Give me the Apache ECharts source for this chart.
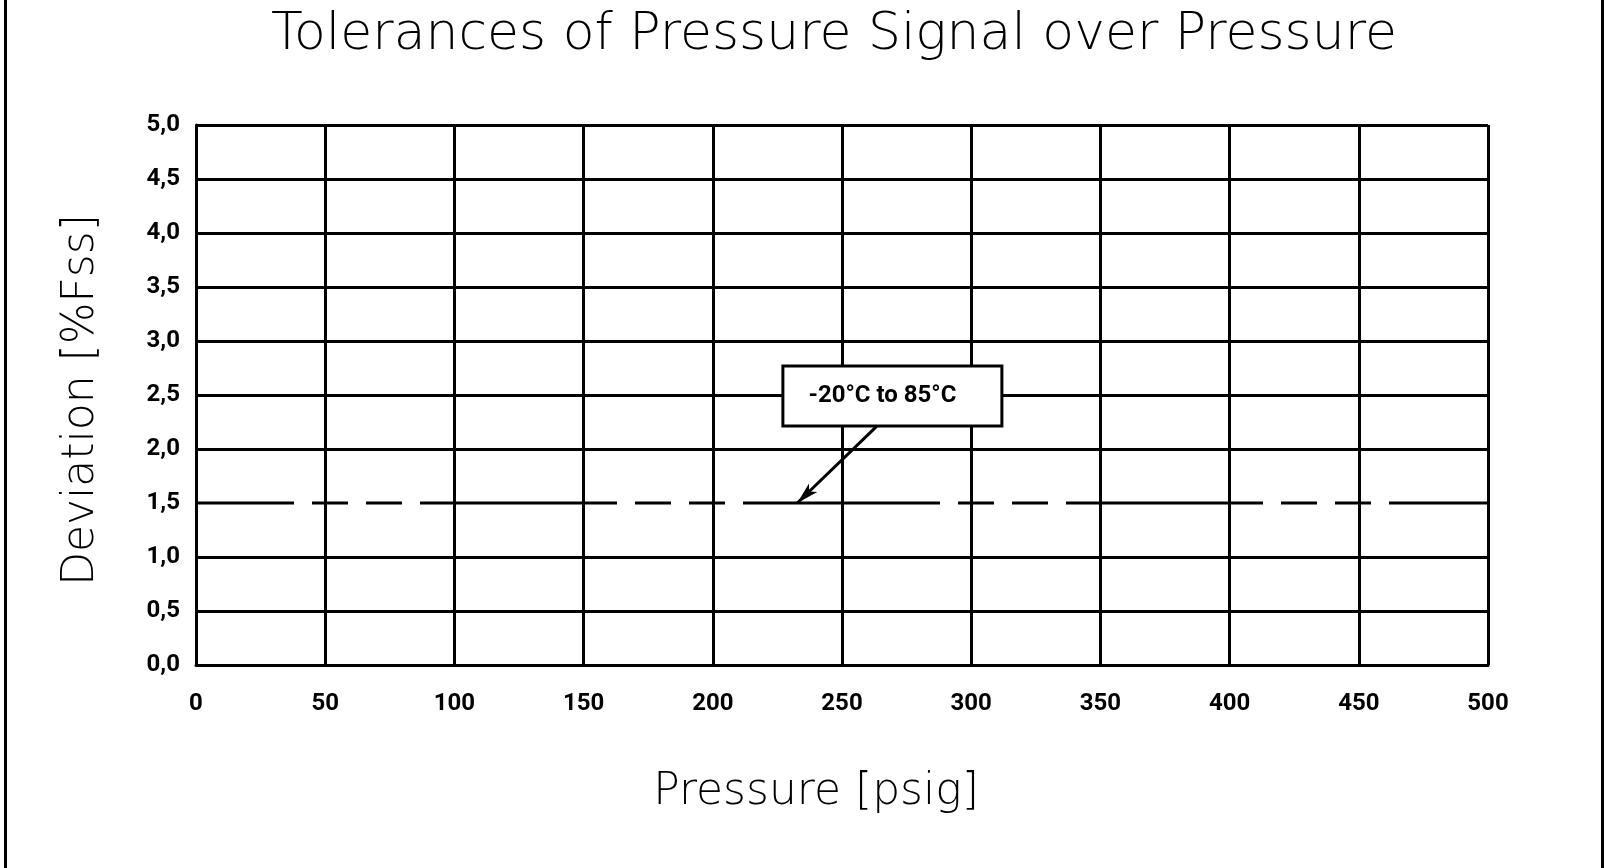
<!DOCTYPE html>
<html>
<head>
<meta charset="utf-8">
<title>Tolerances of Pressure Signal over Pressure</title>
<script src="https://cdn.jsdelivr.net/npm/echarts@6/dist/echarts.min.js"></script>
<style>
html, body { margin: 0; padding: 0; background: #fff; }
#chart { width: 1607px; height: 868px; }
</style>
</head>
<body>
<div id="chart"></div>
<script>
// data
var xTicks = [0, 50, 100, 150, 200, 250, 300, 350, 400, 450, 500];
var yTicks = [0, 0.5, 1.0, 1.5, 2.0, 2.5, 3.0, 3.5, 4.0, 4.5, 5.0];
var toleranceLine = [[0, 1.5], [500, 1.5]];
var noteText = '-20°C to 85°C';
var notePos = [269.5, 2.49];
var arrowFrom = [263.4, 2.21];
var arrowTo = [232.7, 1.5];

var thin = { fontFamily: 'DejaVu Sans', fontWeight: 200, color: '#000' };
var bold = { fontFamily: 'Roboto', fontWeight: 'bold', color: '#000', fontSize: 24 };

// no solid grid line where the dashed tolerance line runs
var hLineColors = yTicks.map(function (v) { return v === 1.5 ? 'rgba(0,0,0,0)' : '#000'; });

var chart = echarts.init(document.getElementById('chart'), null, { renderer: 'canvas' });
chart.setOption({
    animation: false,
    backgroundColor: '#fff',
    title: {
        text: 'Tolerances of Pressure Signal over Pressure',
        left: 834,
        top: 9,
        padding: 0,
        textAlign: 'center',
        textStyle: Object.assign({ fontSize: 52 }, thin)
    },
    graphic: [
        { type: 'rect', left: 4, top: 0, shape: { width: 3, height: 868 }, style: { fill: '#000' } },
        { type: 'rect', right: 3, top: 0, shape: { width: 3, height: 868 }, style: { fill: '#000' } }
    ],
    grid: { left: 196, right: 119, top: 125, bottom: 203 },
    xAxis: {
        type: 'value',
        min: xTicks[0],
        max: xTicks[xTicks.length - 1],
        interval: 50,
        name: 'Pressure [psig]',
        nameLocation: 'middle',
        nameGap: 106,
        nameTextStyle: Object.assign({ fontSize: 44, padding: [0, 52, 0, 0] }, thin),
        axisLine: { show: true, lineStyle: { color: '#000', width: 3 } },
        axisTick: { show: false },
        axisLabel: Object.assign({ margin: 27 }, bold),
        splitLine: { show: true, lineStyle: { color: '#000', width: 3 } }
    },
    yAxis: {
        type: 'value',
        min: yTicks[0],
        max: yTicks[yTicks.length - 1],
        interval: 0.5,
        name: 'Deviation [%Fss]',
        nameLocation: 'middle',
        nameRotate: 90,
        nameGap: 92,
        nameTextStyle: Object.assign({ fontSize: 44, padding: [0, 10, 0, 0] }, thin),
        axisLine: { show: true, lineStyle: { color: '#000', width: 3 } },
        axisTick: { show: false },
        axisLabel: Object.assign({
            margin: 16,
            formatter: function (v) { return v.toFixed(1).replace('.', ','); }
        }, bold),
        splitLine: { show: true, lineStyle: { color: hLineColors, width: 3 } }
    },
    series: [{
        type: 'line',
        data: toleranceLine,
        symbol: 'none',
        lineStyle: { color: '#000', width: 3, type: [197, 18, 36, 18, 36, 18], dashOffset: 99 },
        markLine: {
            silent: true,
            symbol: ['none', 'arrow'],
            symbolSize: [9, 22],
            label: { show: false },
            lineStyle: { color: '#000', width: 3, type: 'solid' },
            data: [[{ coord: arrowFrom }, { coord: arrowTo }]]
        },
        markPoint: {
            silent: true,
            symbol: 'circle',
            symbolSize: 1,
            itemStyle: { color: 'rgba(0,0,0,0)' },
            label: Object.assign({
                show: true,
                position: 'inside',
                formatter: noteText,
                backgroundColor: '#fff',
                borderColor: '#000',
                borderWidth: 3,
                width: 196,
                height: 57,
                lineHeight: 57,
                align: 'center',
                padding: [0, 20, 0, 0]
            }, bold),
            data: [{ coord: notePos }]
        }
    }]
});
</script>
</body>
</html>
